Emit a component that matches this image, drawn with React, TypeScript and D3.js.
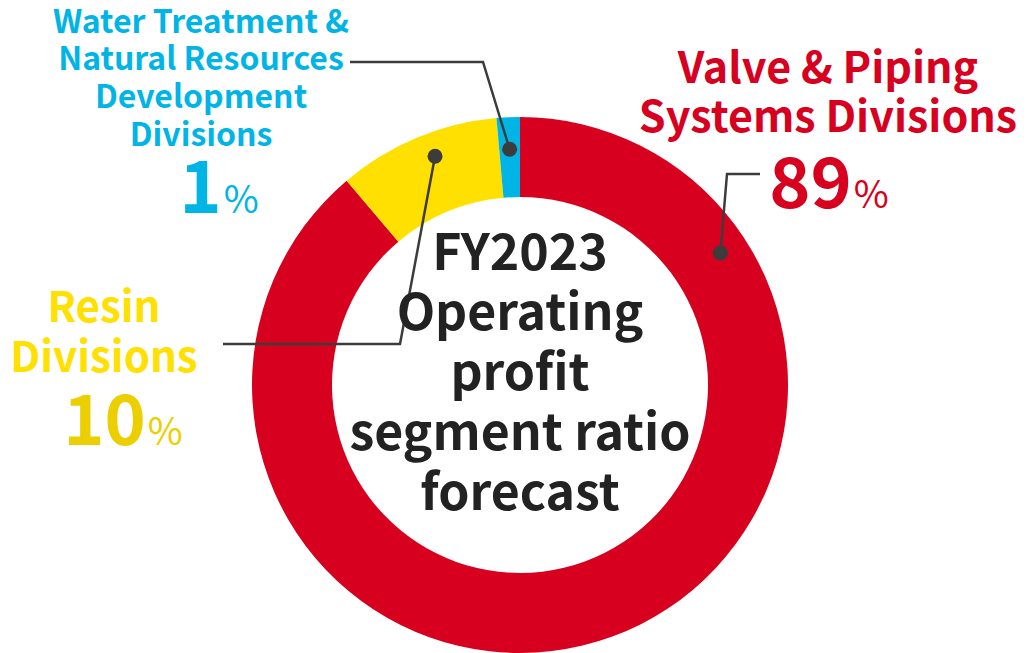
import React from "react";
import * as d3 from "d3";

const segments = ["Valve & Piping Systems Divisions", "Resin Divisions", "Water Treatment & Natural Resources Development Divisions"];
const values = [88.8, 9.8, 1.4];
const labelPercents = ["89", "10", "1"];
const colors = ["#d7001e", "#ffe000", "#00b4e6"];
const centerLines = ["FY2023", "Operating", "profit", "segment ratio", "forecast"];

const W = 1033, H = 653;
const cx = 520, cy = 385, rOuter = 268, rInner = 188;
const FONT = "'Noto Sans CJK JP', 'Noto Sans', sans-serif";
const LINE = "#3c3c3c";

export default function App() {
  const data = segments.map((s, i) => ({ name: s, value: values[i], color: colors[i] }));
  const pie = d3.pie<any>().sort(null).value((d: any) => d.value);
  const arcs = pie(data);
  const arc = d3.arc<any>().innerRadius(rInner).outerRadius(rOuter);

  const pt = (angleDeg: number, r: number) => {
    const a = (angleDeg * Math.PI) / 180;
    return [cx + r * Math.sin(a), cy - r * Math.cos(a)];
  };
  const deg = (a: number) => (a * 180) / Math.PI;
  const mid = (i: number) => deg((arcs[i].startAngle + arcs[i].endAngle) / 2);

  const redDot = pt(56.6, 240);
  const yelDot = pt(mid(1) + 2.3, 244);
  const bluDot = pt(mid(2), 236);

  return (
    <svg width={W} height={H} style={{ position: "absolute", left: 0, top: 0 }} fontFamily={FONT}>
      <rect width={W} height={H} fill="#fff" />
      <g transform={`translate(${cx},${cy})`}>
        {arcs.map((a, i) => (
          <path key={i} d={arc(a) as string} fill={a.data.color} />
        ))}
      </g>

      {/* leader lines */}
      <polyline points={`${redDot[0]},${redDot[1]} 727,174 760,174`} fill="none" stroke={LINE} strokeWidth={2.5} />
      <circle cx={redDot[0]} cy={redDot[1]} r={7.5} fill={LINE} />
      <polyline points={`${yelDot[0]},${yelDot[1]} 400,344 223,344`} fill="none" stroke={LINE} strokeWidth={2.5} />
      <circle cx={yelDot[0]} cy={yelDot[1]} r={7.5} fill={LINE} />
      <polyline points={`${bluDot[0]},${bluDot[1]} 483,62 350,62`} fill="none" stroke={LINE} strokeWidth={2.5} />
      <circle cx={bluDot[0]} cy={bluDot[1]} r={7.5} fill={LINE} />

      {/* center text */}
      <g fill="#222" fontWeight={700} fontSize={50} textAnchor="middle">
        {centerLines.map((t, i) => (
          <text key={i} x={cx} y={270 + i * 60}>{t}</text>
        ))}
      </g>

      {/* red label */}
      <g fill={colors[0]} fontWeight={700} textAnchor="middle">
        <text x={828} y={83} fontSize={43}>Valve &amp; Piping</text>
        <text x={828} y={132} fontSize={43}>Systems Divisions</text>
        <text x={829} y={208} textAnchor="middle">
          <tspan fontSize={70}>{labelPercents[0]}</tspan>
          <tspan fontSize={38} fontWeight={400} dx={2}>%</tspan>
        </text>
      </g>

      {/* yellow label */}
      <g fontWeight={700} textAnchor="middle">
        <text x={104} y={322} fontSize={42} fill="#ffe000">Resin</text>
        <text x={104} y={372} fontSize={42} fill="#ffe000">Divisions</text>
        <text x={123} y={445} fill="#eccf00">
          <tspan fontSize={70}>{labelPercents[1]}</tspan>
          <tspan fontSize={38} fontWeight={400} dx={2}>%</tspan>
        </text>
      </g>

      {/* blue label */}
      <g fontWeight={700} textAnchor="middle" fill={colors[2]}>
        <text x={201} y={33} fontSize={32}>Water Treatment &amp;</text>
        <text x={201} y={70} fontSize={32}>Natural Resources</text>
        <text x={201} y={108} fontSize={32}>Development</text>
        <text x={201} y={146} fontSize={32}>Divisions</text>
        <text x={219} y={213}>
          <tspan fontSize={72}>{labelPercents[2]}</tspan>
          <tspan fontSize={38} fontWeight={400} dx={2}>%</tspan>
        </text>
      </g>
    </svg>
  );
}
